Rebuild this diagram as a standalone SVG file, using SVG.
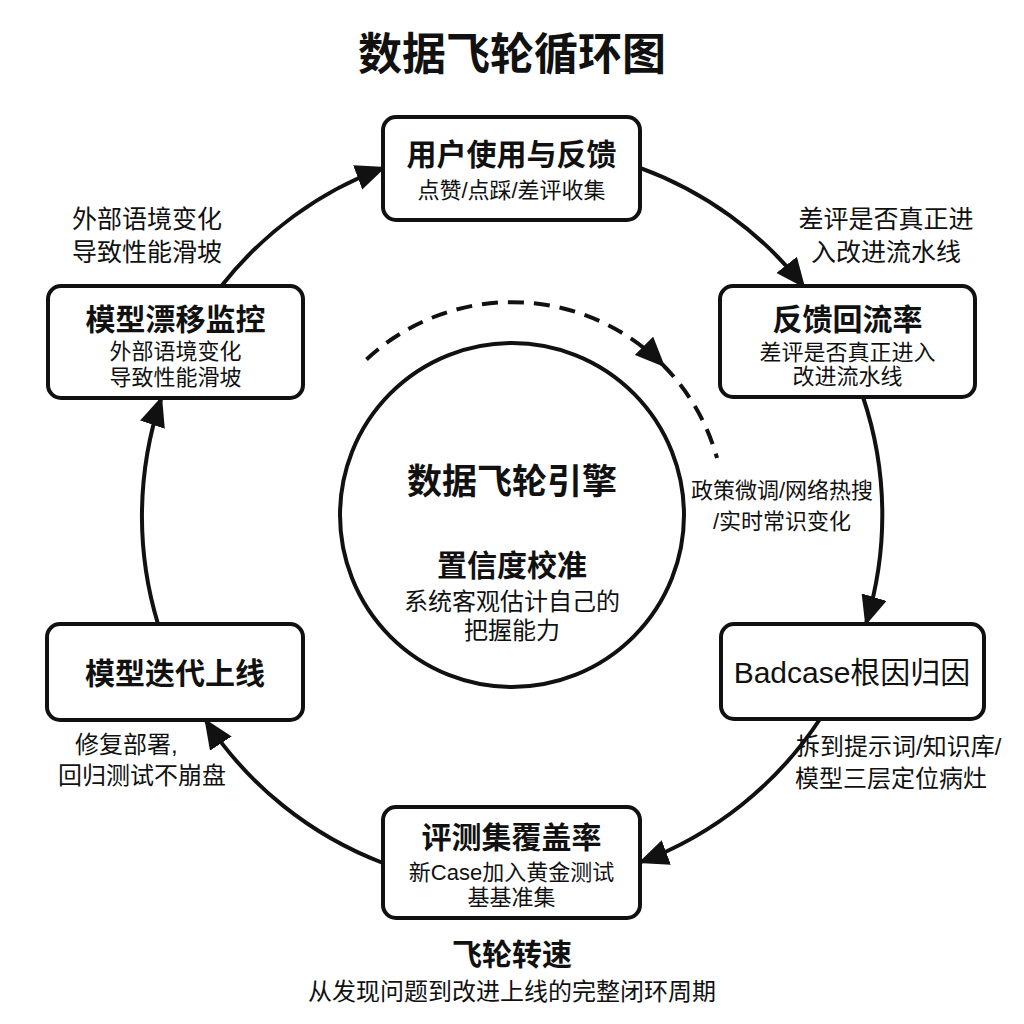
<svg xmlns="http://www.w3.org/2000/svg" width="1024" height="1024" viewBox="0 0 1024 1024">
<defs>
<style>
text{font-family:"Liberation Sans","Noto Sans CJK SC",sans-serif;fill:#111;text-anchor:middle}
.title{font-size:44px;font-weight:bold}
.nt{font-size:30px;font-weight:bold}
.nr{font-size:30px}
.ns{font-size:22px}
.lb{font-size:24px}
.lg{font-size:25px}
.ls{font-size:22px}
.box{fill:#fff;stroke:#111;stroke-width:4}
.arc{fill:none;stroke:#111;stroke-width:4}
.dash{fill:none;stroke:#111;stroke-width:4;stroke-dasharray:16 10}
.st{text-anchor:start}
</style>
<marker id="ah" viewBox="0 0 30 26" refX="27" refY="13" markerWidth="30" markerHeight="26" markerUnits="userSpaceOnUse" orient="auto">
<path d="M0,0 L30,13 L0,26 Z" fill="#111"/>
</marker>
</defs>
<rect width="1024" height="1024" fill="#fff"/>
<text class="title" x="512" y="70">数据飞轮循环图</text>

<g id="connectors">
<path class="arc" marker-end="url(#ah)" d="M 220.6 287 A 370 370 0 0 1 383 168"/>
<path class="arc" marker-end="url(#ah)" d="M 640 167.8 A 370 370 0 0 1 803.4 286"/>
<path class="arc" marker-end="url(#ah)" d="M 863 397 A 370 370 0 0 1 866.2 623"/>
<path class="arc" marker-end="url(#ah)" d="M 820 719 A 370 370 0 0 1 641 862"/>
<path class="arc" marker-end="url(#ah)" d="M 383 863 A 370 370 0 0 1 206 721"/>
<path class="arc" marker-end="url(#ah)" d="M 158 624 A 370 370 0 0 1 161 399"/>
<path class="dash" marker-end="url(#ah)" d="M 366.5 359.5 A 213 213 0 0 1 663 365"/>
<path class="dash" d="M 663 365 A 213 213 0 0 1 717 458"/>
</g>

<g id="label-drift">
<text class="lg" x="147" y="228">外部语境变化</text>
<text class="lg" x="147" y="261">导致性能滑坡</text>
</g>
<g id="label-feedback">
<text class="lg" x="886" y="228">差评是否真正进</text>
<text class="lg" x="886" y="261">入改进流水线</text>
</g>
<g id="label-policy">
<text class="ls" x="782" y="498">政策微调/网络热搜</text>
<text class="ls" x="782" y="529">/实时常识变化</text>
</g>
<g id="label-badcase">
<text class="lb st" x="796" y="755">拆到提示词/知识库/</text>
<text class="lb st" x="795" y="787">模型三层定位病灶</text>
</g>
<g id="label-deploy">
<text class="lb st" x="75" y="753">修复部署,</text>
<text class="lb st" x="58" y="784">回归测试不崩盘</text>
</g>

<g id="node-user">
<rect class="box" x="383" y="117" width="257" height="103" rx="13"/>
<text class="nt" x="511.5" y="165">用户使用与反馈</text>
<text class="ns" x="511.5" y="198">点赞/点踩/差评收集</text>
</g>
<g id="node-return">
<rect class="box" x="720" y="286" width="255" height="111" rx="13"/>
<text class="nt" x="847.5" y="330">反馈回流率</text>
<text class="ns" x="847.5" y="360">差评是否真正进入</text>
<text class="ns" x="847.5" y="384">改进流水线</text>
</g>
<g id="node-badcase">
<rect class="box" x="721" y="624" width="263" height="95" rx="13"/>
<text class="nr" x="852" y="683">Badcase根因归因</text>
</g>
<g id="node-eval">
<rect class="box" x="383" y="807" width="257" height="111" rx="13"/>
<text class="nt" x="511.5" y="848">评测集覆盖率</text>
<text class="ns" x="511.5" y="880">新Case加入黄金测试</text>
<text class="ns" x="511.5" y="905">基基准集</text>
</g>
<g id="node-iterate">
<rect class="box" x="47" y="624" width="256" height="96" rx="13"/>
<text class="nt" x="175" y="684">模型迭代上线</text>
</g>
<g id="node-drift">
<rect class="box" x="48" y="286" width="255" height="112" rx="13"/>
<text class="nt" x="175.5" y="330">模型漂移监控</text>
<text class="ns" x="175.5" y="359">外部语境变化</text>
<text class="ns" x="175.5" y="385">导致性能滑坡</text>
</g>

<g id="node-engine">
<circle class="box" cx="512" cy="515" r="172"/>
<text x="512" y="494" style="font-size:35px;font-weight:bold">数据飞轮引擎</text>
<text class="nt" x="512" y="576">置信度校准</text>
<text class="lb" x="512" y="610">系统客观估计自己的</text>
<text class="lb" x="512" y="639">把握能力</text>
</g>

<g id="footer">
<text class="nt" x="512" y="965">飞轮转速</text>
<text class="lb" x="512" y="1000">从发现问题到改进上线的完整闭环周期</text>
</g>
</svg>
